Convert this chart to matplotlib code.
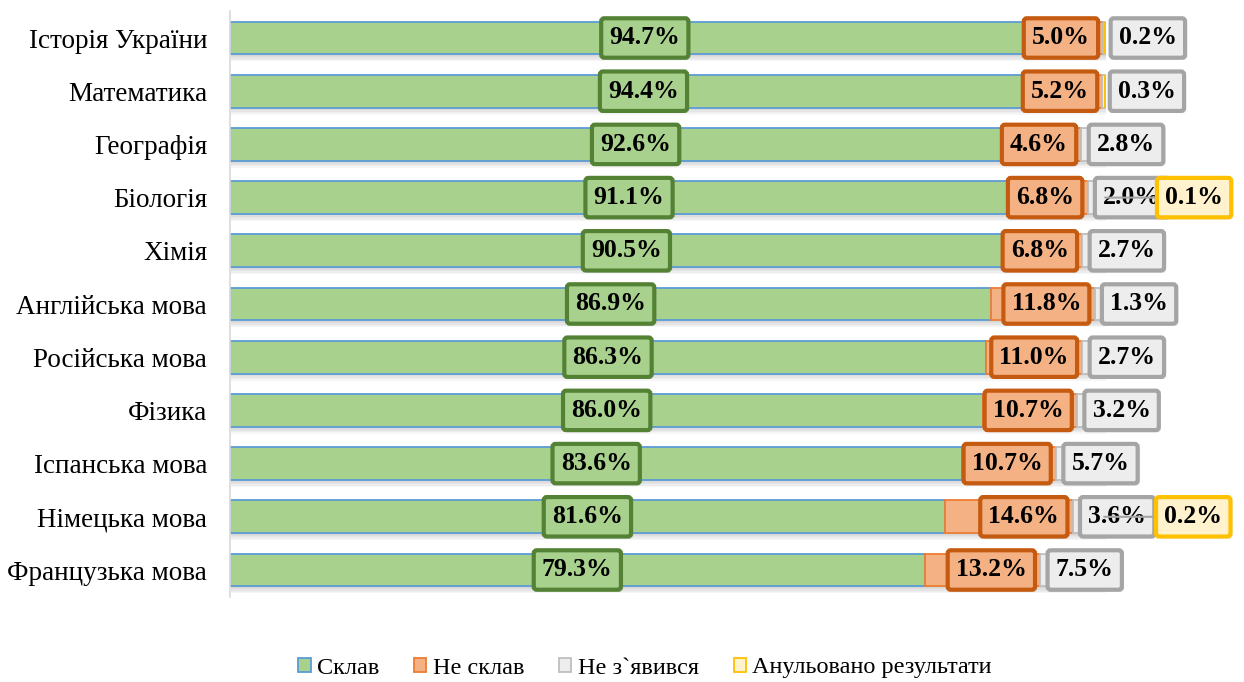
import matplotlib
matplotlib.use("Agg")
import matplotlib.pyplot as plt
import matplotlib.patheffects as pe
import numpy as np

categories = ["Історія України", "Математика", "Географія", "Біологія", "Хімія",
              "Англійська мова", "Російська мова", "Фізика", "Іспанська мова",
              "Німецька мова", "Французька мова"]
passed = [94.7, 94.4, 92.6, 91.1, 90.5, 86.9, 86.3, 86.0, 83.6, 81.6, 79.3]
failed = [5.0, 5.2, 4.6, 6.8, 6.8, 11.8, 11.0, 10.7, 10.7, 14.6, 13.2]
absent = [0.2, 0.3, 2.8, 2.0, 2.7, 1.3, 2.7, 3.2, 5.7, 3.6, 7.5]
annulled = [0.0, 0.0, 0.0, 0.1, 0.0, 0.0, 0.0, 0.0, 0.0, 0.2, 0.0]
series_names = ["Склав", "Не склав", "Не з`явився", "Анульовано результати"]

fills = ["#A9D18E", "#F4B183", "#EDEDED", "#FFF2CC"]
edges = ["#5B9BD5", "#ED7D31", "#BFBFBF", "#FFC000"]
box_edges = ["#548235", "#C55A11", "#A5A5A5", "#FFC000"]

plt.rcParams['font.family'] = ['Liberation Serif', 'DejaVu Serif']

W, H = 1244, 682
fig = plt.figure(figsize=(W / 100, H / 100), dpi=100)
ax = fig.add_axes([230 / W, 1 - 596.6 / H, 876 / W, (596.6 - 11.4) / H])

shadow = [pe.SimplePatchShadow(offset=(1, -d), shadow_rgbFace="#808080", alpha=0.07)
          for d in (1.0, 2.0, 3.0, 4.0, 5.0)] + [pe.Normal()]

y = np.arange(len(categories))
data = [passed, failed, absent, annulled]
left = np.zeros(len(categories))
for k, vals in enumerate(data):
    vals = np.array(vals)
    bars = ax.barh(y, vals, left=left, height=0.62, color=fills[k],
                   edgecolor=edges[k], linewidth=1.3, label=series_names[k], zorder=2)
    for b in bars:
        b.set_path_effects(shadow)
    left = left + vals

ax.set_xlim(0, 100)
ax.set_ylim(len(categories) - 0.5, -0.5)
ax.set_yticks(y)
ax.set_yticklabels(categories, fontsize=19.5)
ax.tick_params(axis='y', length=0, pad=16.5)
ax.set_xticks([])
for s in ["top", "right", "bottom"]:
    ax.spines[s].set_visible(False)
ax.spines["left"].set_color("#D9D9D9")
ax.spines["left"].set_linewidth(1.2)

box_shadow = [pe.SimplePatchShadow(offset=(1.5, -1.5), shadow_rgbFace="#808080", alpha=0.2), pe.Normal()]

def lab(txt, xy, k, off, ha, z, pad=0.32, arrow=False):
    t = ax.annotate(txt, xy=xy, xytext=off, textcoords="offset pixels", ha=ha, va="center",
                    fontsize=fs, fontweight="bold", zorder=z, annotation_clip=False,
                    bbox=dict(boxstyle=f"round,pad={pad},rounding_size=0.12", facecolor=fills[k],
                              edgecolor=box_edges[k], linewidth=3),
                    arrowprops=(dict(arrowstyle="-", color="#A5A5A5", lw=1.5, shrinkA=0, shrinkB=0)
                                if arrow else None))
    t.get_bbox_patch().set_path_effects(box_shadow)
    return t

fs = 18.5
for i in range(len(categories)):
    p, f, a, n = passed[i], failed[i], absent[i], annulled[i]
    lab(f"{p:.1f}%", (p / 2, i), 0, (0, 0), "center", 5)
    lab(f"{f:.1f}%", (p + f, i), 1, (-13.5, 0), "right", 5)
    lab(f"{a:.1f}%", (p + f, i), 2, (15.5, 0), "left", 6)
    if n > 0:
        lab(f"{n:.1f}%", (p + f + a, i), 3, (60, 0), "left", 7, arrow=True)

leg = fig.legend(loc="center", bbox_to_anchor=(645 / W, 1 - 668 / H), ncol=4, frameon=False,
                 fontsize=17.5, handlelength=0.5, handleheight=0.5, handletextpad=0.25,
                 columnspacing=1.45)
for h in leg.legend_handles:
    h.set_path_effects([])

fig.savefig("out.png", dpi=100)
